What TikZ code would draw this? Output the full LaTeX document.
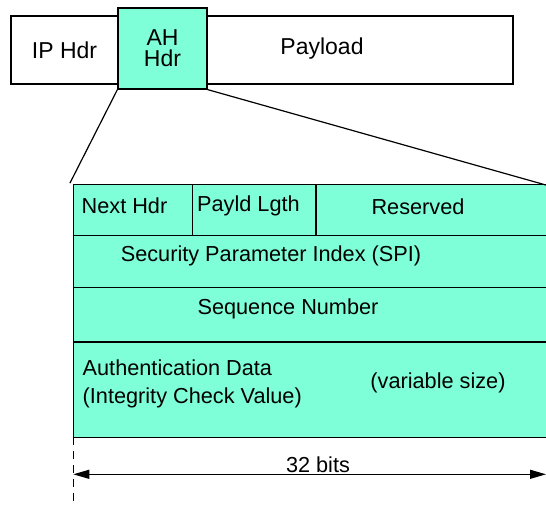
\documentclass[tikz,border=0pt]{standalone}
\usepackage{fontspec}
\setmainfont{Liberation Sans}
\usetikzlibrary{arrows.meta}
\definecolor{aqua}{RGB}{127,255,216}
\begin{document}
\begin{tikzpicture}[x=1pt,y=-1pt,
  box/.style={draw, line width=1.2pt, inner sep=0pt, font=\fontsize{23}{22}\selectfont},
  cell/.style={draw, line width=1.2pt, inner sep=0pt, fill=aqua},
  lbl/.style={inner sep=0pt, font=\fontsize{21.7}{28}\selectfont},
  toplbl/.style={inner sep=0pt, font=\fontsize{23}{22}\selectfont},
  link/.style={line width=1.2pt}]
\useasboundingbox (0,0) rectangle (546,504);
\clip (0,0) rectangle (546,504);
% top packet
\node[box, minimum width=107pt, minimum height=68pt] (ip) at (64.5,50) {IP Hdr};
\node[box, minimum width=306pt, minimum height=68pt] (pay) at (360,50) {};
\node[toplbl] (payt) at (322,49) {Payload};
\node[cell, minimum width=89pt, minimum height=81pt, align=center, font=\fontsize{23}{21}\selectfont] (ah) at (162.5,48.5) {AH\\Hdr};
% table rows
\node[cell, minimum width=480pt, minimum height=51.5pt] (r1) at (313.3,210) {};
\node[cell, minimum width=480pt, minimum height=52pt] (r2) at (313.3,261.7) {};
\node[cell, minimum width=480pt, minimum height=54.3pt] (r3) at (313.3,314.8) {};
\node[cell, minimum width=480pt, minimum height=95.3pt] (r4) at (313.3,389.7) {};
\draw[link] (192.3,184.3) -- (192.3,235.7);
\draw[link] (316,184.3) -- (316,235.7);
\node[lbl, anchor=west] (nh) at (81.5,206) {Next Hdr};
\node[lbl, anchor=west] (pl) at (197,206) {Payld Lgth};
\node[lbl] (res) at (418,207) {Reserved};
\node[lbl] (spi) at (271,256) {Security Parameter Index (SPI)};
\node[lbl] (seq) at (288,309) {Sequence Number};
\node[lbl, anchor=west, align=left] (auth) at (82.5,384) {Authentication Data\\(Integrity Check Value)};
\node[lbl] (var) at (438,383) {(variable size)};
% zoom lines
\coordinate (tl) at (70,183);
\coordinate (tr) at (560,189);
\draw[link] (ah.south west) -- (tl);
\draw[link] (ah.south east) -- (tr);
% width annotation
\coordinate (d1) at (73.3,437);
\coordinate (d2) at (73.3,504);
\draw[line width=1.3pt, dash pattern=on 8pt off 6pt] (d1) -- (d2);
\coordinate (a1) at (73.3,474.3);
\coordinate (a2) at (546,474.3);
\draw[line width=1.2pt, {Triangle[length=16pt,width=9pt]}-{Triangle[length=16pt,width=9pt]}] (a1) -- (a2);
\node[lbl] (bits) at (318,465) {32 bits};
\end{tikzpicture}
\end{document}
